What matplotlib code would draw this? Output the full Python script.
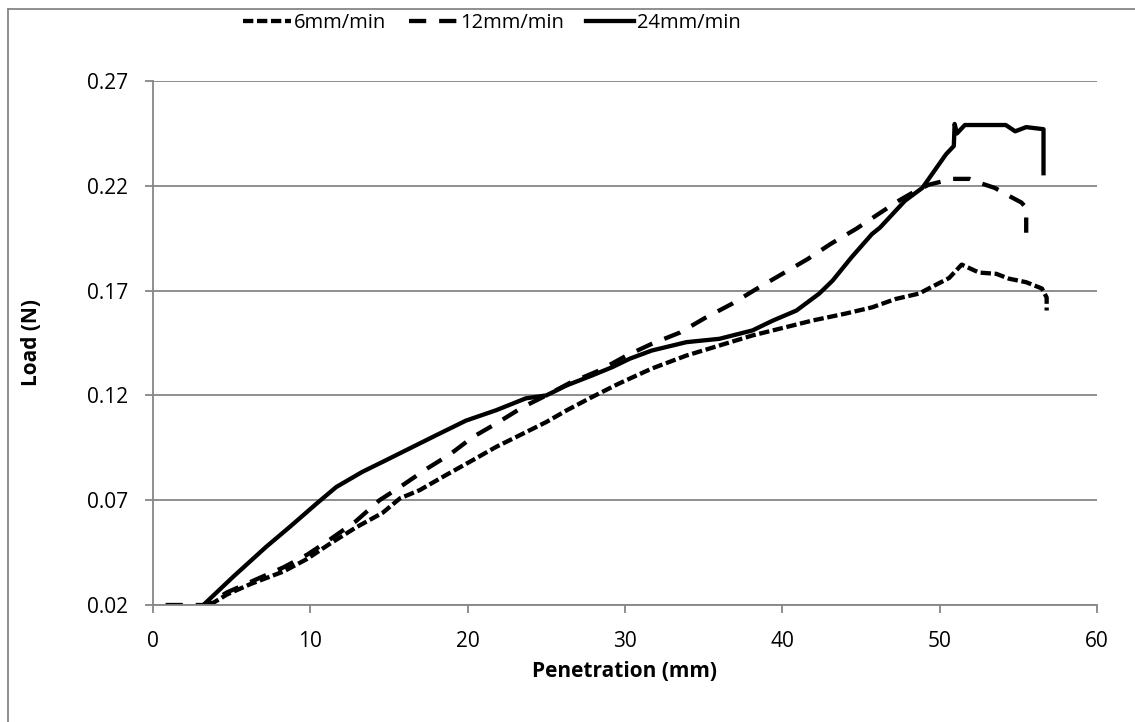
import matplotlib
matplotlib.use("Agg")
import matplotlib.pyplot as plt
from matplotlib.lines import Line2D

plt.rcParams['font.family'] = ['Open Sans', 'DejaVu Sans']

# penetration (mm) / load (N)
x6 = [3.6, 4.7, 6.2, 8.3, 9.8, 11.2, 12.9, 14.6, 15.7, 16.95, 18.6, 20.3, 21.8,
      23.5, 25.0, 26.3, 27.9, 29.6, 30.3, 31.7, 33.9, 36.0, 38.1, 40.2, 41.9, 44.0,
      45.7, 47.2, 48.7, 49.3, 50.6, 51.4, 52.5, 53.6, 54.4, 55.5, 56.5, 56.8, 56.8]
y6 = [0.020, 0.025, 0.030, 0.036, 0.042, 0.049, 0.057, 0.064, 0.0709, 0.0748,
      0.0819, 0.089, 0.0954, 0.1017, 0.1073, 0.1129, 0.1192, 0.1256, 0.128, 0.1328,
      0.139, 0.1438, 0.1486, 0.1525, 0.1557, 0.159, 0.162, 0.166, 0.1686, 0.171,
      0.176, 0.1824, 0.1786, 0.178, 0.1757, 0.174, 0.171, 0.1667, 0.1605]

x12 = [0.8, 3.4, 4.7, 6.2, 8.3, 9.8, 11.2, 12.9, 14.4, 15.7, 17.4, 18.9, 20.3, 21.8,
       23.5, 25.0, 26.5, 28.4, 30.1, 31.7, 33.5, 35.1, 36.8, 38.4, 40.0, 41.6, 43.1,
       44.7, 46.2, 47.4, 48.3, 49.3, 50.8, 51.9, 52.7, 53.5, 54.5, 55.2, 55.5, 55.5]
y12 = [0.020, 0.020, 0.026, 0.031, 0.038, 0.044, 0.051, 0.060, 0.070, 0.0763, 0.085,
       0.092, 0.100, 0.1065, 0.1144, 0.120, 0.126, 0.132, 0.139, 0.1446, 0.150, 0.157,
       0.1637, 0.171, 0.178, 0.185, 0.1924, 0.1995, 0.207, 0.2129, 0.2168, 0.2205,
       0.2233, 0.2233, 0.221, 0.219, 0.2148, 0.212, 0.2095, 0.1976]

x24 = [3.2, 5.1, 7.2, 8.7, 10.4, 11.65, 13.3, 14.6, 16.5, 18.0, 19.9, 21.8, 23.7, 25.0,
       26.3, 27.9, 29.2, 30.3, 31.7, 33.9, 36.0, 38.1, 39.4, 40.9, 42.35, 43.2, 44.4,
       45.7, 46.2, 47.8, 48.9, 50.4, 50.9, 50.95, 51.1, 51.6, 54.2, 54.8, 55.5, 56.6, 56.6]
y24 = [0.020, 0.0335, 0.0478, 0.0573, 0.0684, 0.0763, 0.0835, 0.0883, 0.0954, 0.101,
       0.108, 0.1129, 0.1186, 0.120, 0.1248, 0.1295, 0.1335, 0.1375, 0.1414, 0.1454,
       0.147, 0.151, 0.1557, 0.1605, 0.1686, 0.1748, 0.1859, 0.197, 0.200, 0.2129,
       0.219, 0.235, 0.239, 0.2495, 0.245, 0.249, 0.249, 0.246, 0.248, 0.247, 0.226]

labels = ["6mm/min", "12mm/min", "24mm/min"]
xticks = [0, 10, 20, 30, 40, 50, 60]
yticks = [0.02, 0.07, 0.12, 0.17, 0.22, 0.27]

W, H = 1135, 722
fig = plt.figure(figsize=(W / 100, H / 100), dpi=100)
ax = fig.add_axes([153 / W, 1 - 605 / H, (1097 - 153) / W, (605 - 81) / H])

lw = 3.1
ax.plot(x6, y6, color="black", lw=lw, linestyle=(0, (2.4, 0.85)), label=labels[0])
ax.plot(x12, y12, color="black", lw=lw, linestyle=(0, (4, 3)), label=labels[1])
ax.plot(x24, y24, color="black", lw=lw, linestyle="-", label=labels[2])

grey = "#868686"
ax.set_xlim(0, 60)
ax.set_ylim(0.02, 0.27)
ax.set_xticks(xticks)
ax.set_yticks(yticks)
ax.set_yticklabels([f"{v:.2f}" for v in yticks])
ax.grid(axis="y", color=grey, lw=1.3)
ax.set_axisbelow(True)
for s in ("top", "right"):
    ax.spines[s].set_visible(False)
for s in ("left", "bottom"):
    ax.spines[s].set_color(grey)
    ax.spines[s].set_linewidth(1.3)
ax.tick_params(axis="both", direction="out", length=6, width=1.3, color=grey,
               labelsize=15, labelcolor="black")
ax.tick_params(axis="y", pad=12)
ax.tick_params(axis="x", pad=13)
ax.set_xlabel("Penetration (mm)", fontsize=15, fontweight="bold", labelpad=6)
ax.set_ylabel("Load (N)", fontsize=15, fontweight="bold", labelpad=32)

fig.legend(loc="center", bbox_to_anchor=(492 / W, 1 - 23 / H), ncol=3,
           frameon=False, fontsize=14.5, handlelength=2.4, handletextpad=0.15,
           columnspacing=1.1)

# outer chart border (left and top edges only visible)
fig.add_artist(Line2D([8 / W, 8 / W], [0, 1 - 9 / H], color=grey, lw=1.3))
fig.add_artist(Line2D([8 / W, 1], [1 - 9 / H, 1 - 9 / H], color=grey, lw=1.3))

fig.savefig("out.png", dpi=100)
